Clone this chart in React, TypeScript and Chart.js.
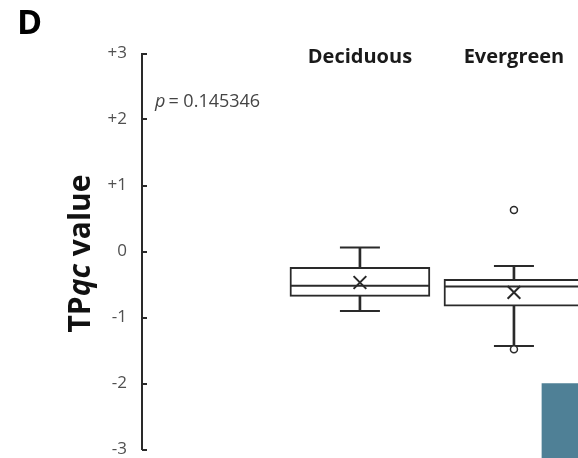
import React, { useEffect, useRef } from 'react';
import { Chart, registerables } from 'chart.js';

Chart.register(...registerables);

// ---- data ----
const categories = ['Deciduous', 'Evergreen'];
const categoryX = [1, 2];
const whiskerLow = [-0.9, -1.43];
const q1 = [-0.68, -0.83];
const median = [-0.52, -0.53];
const q3 = [-0.24, -0.42];
const whiskerHigh = [0.06, -0.22];
const means = [-0.47, -0.62];
const outlierX = [2, 2];
const outlierY = [0.63, -1.48];
const yTickLabels = ['-3', '-2', '-1', '0', '+1', '+2', '+3'];
const yMin = -3;
const yMax = 3;
const pValueText = '0.145346';
const panelLetter = 'D';
const sideBarX = [3];
const sideBarRange = [[-2, -3.3]];

const LINE = '#2a2a2a';
const FONT = "'Open Sans', sans-serif";

const decorPlugin = {
  id: 'decor',
  afterDraw(chart: any) {
    const { ctx, chartArea, scales } = chart;
    const x = scales.x;
    const y = scales.y;
    ctx.save();
    // inward ticks
    ctx.strokeStyle = LINE;
    ctx.lineWidth = 2;
    y.ticks.forEach((t: any) => {
      const py = Math.round(y.getPixelForValue(t.value));
      ctx.beginPath();
      ctx.moveTo(chartArea.left, py);
      ctx.lineTo(chartArea.left + 5, py);
      ctx.stroke();
    });
    // category labels
    ctx.fillStyle = '#1a1a1a';
    ctx.font = `bold 20px ${FONT}`;
    ctx.textAlign = 'center';
    ctx.textBaseline = 'alphabetic';
    categories.forEach((c, i) => {
      ctx.fillText(c, x.getPixelForValue(categoryX[i]), chartArea.top + 9.5);
    });
    // p value
    ctx.textAlign = 'left';
    ctx.fillStyle = '#444';
    let px = chartArea.left + 13;
    const py = chartArea.top + 53;
    ctx.font = `italic 18px ${FONT}`;
    ctx.fillText('p', px, py);
    px += ctx.measureText('p').width + 3;
    ctx.font = `18px ${FONT}`;
    ctx.fillText('= ' + pValueText, px, py);
    // panel letter
    ctx.fillStyle = '#000';
    ctx.font = `bold 34px ${FONT}`;
    ctx.fillText(panelLetter, 17, 34);
    // y title
    const segs = [
      { t: 'TP', f: `bold 30px ${FONT}` },
      { t: 'qc', f: `italic bold 30px ${FONT}` },
      { t: ' value', f: `bold 30px ${FONT}` },
    ];
    let total = 0;
    segs.forEach((s) => {
      ctx.font = s.f;
      total += ctx.measureText(s.t).width;
    });
    ctx.translate(90, (chartArea.top + chartArea.bottom) / 2 + 2);
    ctx.rotate(-Math.PI / 2);
    ctx.fillStyle = '#111';
    let sx = -total / 2;
    segs.forEach((s) => {
      ctx.font = s.f;
      ctx.fillText(s.t, sx, 0);
      sx += ctx.measureText(s.t).width;
    });
    ctx.restore();
  },
};

export default function App() {
  const ref = useRef<HTMLCanvasElement>(null);
  useEffect(() => {
    if (!ref.current) return;
    const chart = new Chart(ref.current, {
      type: 'bar',
      data: {
        datasets: [
          {
            type: 'scatter',
            order: 0,
            data: outlierX.map((xv, i) => ({ x: xv, y: outlierY[i] })),
            pointStyle: 'circle',
            pointRadius: 3.5,
            backgroundColor: '#fff',
            borderColor: LINE,
            borderWidth: 1.5,
          } as any,
          {
            type: 'scatter',
            order: 1,
            data: categoryX.map((xv, i) => ({ x: xv, y: means[i] })),
            pointStyle: 'crossRot',
            pointRadius: 9,
            borderColor: LINE,
            borderWidth: 2,
          } as any,
          {
            type: 'scatter',
            order: 2,
            data: categoryX
              .map((xv, i) => ({ x: xv, y: whiskerHigh[i] }))
              .concat(categoryX.map((xv, i) => ({ x: xv, y: whiskerLow[i] }))),
            pointStyle: 'line',
            pointRadius: 20,
            borderColor: LINE,
            borderWidth: 2,
          } as any,
          {
            type: 'scatter',
            order: 2,
            data: categoryX.map((xv, i) => ({ x: xv, y: median[i] })),
            pointStyle: 'line',
            pointRadius: 69,
            borderColor: LINE,
            borderWidth: 2,
          } as any,
          {
            type: 'bar',
            order: 3,
            grouped: false,
            data: categoryX.map((xv, i) => ({ x: xv, y: [q1[i], q3[i]] })),
            backgroundColor: '#fff',
            borderColor: LINE,
            borderWidth: 2,
            borderSkipped: false,
            barThickness: 140,
          } as any,
          {
            type: 'bar',
            order: 4,
            grouped: false,
            data: categoryX
              .map((xv, i) => ({ x: xv, y: [q3[i], whiskerHigh[i]] }))
              .concat(categoryX.map((xv, i) => ({ x: xv, y: [whiskerLow[i], q1[i]] }))),
            backgroundColor: LINE,
            borderWidth: 0,
            barThickness: 2,
          } as any,
          {
            type: 'bar',
            order: 5,
            grouped: false,
            clip: false,
            data: sideBarX.map((xv, i) => ({ x: xv, y: sideBarRange[i] })),
            backgroundColor: '#4F8096',
            borderWidth: 0,
            barThickness: 252,
          } as any,
        ],
      },
      options: {
        animation: false,
        responsive: false,
        maintainAspectRatio: false,
        layout: { autoPadding: false, padding: { left: 0, top: 53.5, right: 0, bottom: 8.5 } },
        plugins: { legend: { display: false }, tooltip: { enabled: false } },
        events: [],
        scales: {
          x: {
            type: 'linear',
            display: false,
            offset: false,
            min: -0.415,
            max: 3.208,
          },
          y: {
            type: 'linear',
            min: yMin,
            max: yMax,
            afterFit: (s: any) => {
              s.width = 142;
            },
            grid: {
              display: true,
              drawOnChartArea: false,
              drawTicks: true,
              tickLength: 15,
              color: 'rgba(0,0,0,0)',
            },
            border: { display: true, color: LINE, width: 2 },
            ticks: {
              stepSize: 1,
              padding: 0,
              color: '#505050',
              font: { family: FONT, size: 17, lineHeight: 1 },
              callback: (v: any) => yTickLabels[Math.round(v - yMin)] ?? String(v),
            },
          },
        },
      } as any,
      plugins: [decorPlugin],
    });
    return () => chart.destroy();
  }, []);
  return (
    <div style={{ position: 'absolute', left: 0, top: 0, width: 578, height: 458, overflow: 'hidden', background: '#fff' }}>
      <canvas ref={ref} width={700} height={458} style={{ display: 'block' }} />
    </div>
  );
}
